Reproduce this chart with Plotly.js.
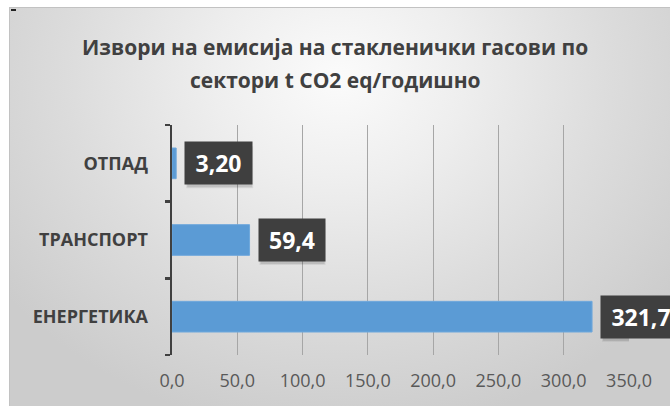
<!DOCTYPE html>
<html>
<head>
<meta charset="utf-8">
<script src="https://cdn.plot.ly/plotly-3.0.1.min.js"></script>
<style>
  html, body { margin: 0; padding: 0; background: #ffffff; }
  #chart { width: 670px; height: 406px; }
</style>
</head>
<body>
<div id="chart"></div>
<script>
// Sectors listed bottom-to-top as they appear on the category axis
const sectors = ['ЕНЕРГЕТИКА', 'ТРАНСПОРТ', 'ОТПАД'];
const emissions = [321.7, 59.4, 3.2];
const labelDecimals = [1, 1, 2];
const xTickValues = [0, 50, 100, 150, 200, 250, 300, 350];
const titleLines = ['Извори на емисија на стакленички гасови по', 'сектори t CO2 eq/годишно'];

const labelText = emissions.map((v, i) => v.toFixed(labelDecimals[i]).replace('.', ','));
const boxWidths = [78, 64, 65];
const boxHeight = 40;

// Chart-area backdrop: grey radial gradient, lightest behind the title
const bgSvg =
  "<svg xmlns='http://www.w3.org/2000/svg' width='661' height='399' viewBox='0 0 661 399'>" +
  "<defs><radialGradient id='g' gradientUnits='userSpaceOnUse' cx='330' cy='70' r='420' " +
  "gradientTransform='translate(330 70) scale(1 0.85) translate(-330 -70)'>" +
  "<stop offset='0' stop-color='#fbfbfb'/>" +
  "<stop offset='0.3' stop-color='#eeeeee'/>" +
  "<stop offset='0.65' stop-color='#dcdcdc'/>" +
  "<stop offset='1' stop-color='#cccccc'/>" +
  "</radialGradient></defs>" +
  "<rect x='0.5' y='0.5' width='670' height='410' fill='url(#g)' stroke='#c2c2c2' stroke-width='1'/>" +
  "<rect x='2' y='2' width='5' height='2' fill='#222222'/>" +
  "</svg>";
const bgUri = 'data:image/svg+xml;charset=utf-8,' + encodeURIComponent(bgSvg);

const M = { l: 172, r: 41, t: 125, b: 51 };
const W = 670, H = 406;
const plotW = W - M.l - M.r, plotH = H - M.t - M.b;
const px2x = px => (px - M.l) / plotW;
const px2y = py => (H - M.b - py) / plotH;

const bars = {
  type: 'bar',
  orientation: 'h',
  y: sectors,
  x: emissions,
  marker: { color: '#5b9bd5', line: { color: '#6fa8dc', width: 1 } },
  hoverinfo: 'none'
};

// soft drop shadows under the value boxes, anchored to each bar end
const shapes = [];
emissions.forEach((v, i) => {
  [[0.10, 0], [0.07, 1]].forEach(([a, grow]) => {
    shapes.push({
      type: 'rect', layer: 'above',
      xref: 'x', yref: 'y', xsizemode: 'pixel', ysizemode: 'pixel',
      xanchor: v, yanchor: sectors[i],
      x0: 11 - grow, x1: 11 + boxWidths[i] + grow,
      y0: -boxHeight / 2 - 4 - grow, y1: boxHeight / 2 - 4 + grow,
      fillcolor: 'rgba(0,0,0,' + a + ')', line: { width: 0 }
    });
  });
});

const annotations = [];
emissions.forEach((v, i) => {
  annotations.push({
    x: v, y: sectors[i], xref: 'x', yref: 'y',
    xanchor: 'left', yanchor: 'middle', xshift: 8,
    text: '<b>' + labelText[i] + '</b>', showarrow: false,
    width: boxWidths[i], height: boxHeight,
    bgcolor: '#3f3f3f',
    font: { family: 'Open Sans', size: 23, color: '#ffffff' }
  });
});

// two-line chart title
[47, 80].forEach((py, i) => {
  annotations.push({
    xref: 'paper', yref: 'paper', x: px2x(335), y: px2y(py),
    xanchor: 'center', yanchor: 'middle', showarrow: false,
    text: '<b>' + titleLines[i] + '</b>',
    font: { family: 'Open Sans', size: 21, color: '#404040' }
  });
});

const layout = {
  width: W, height: H,
  paper_bgcolor: '#ffffff',
  plot_bgcolor: 'rgba(0,0,0,0)',
  margin: M,
  bargap: 0.6,
  showlegend: false,
  separators: ',.',
  images: [{
    source: bgUri, xref: 'paper', yref: 'paper',
    x: px2x(9), y: px2y(7), sizex: (W - 9) / plotW, sizey: (H - 7) / plotH,
    xanchor: 'left', yanchor: 'top', sizing: 'stretch', layer: 'below'
  }],
  xaxis: {
    range: [0, 350],
    tickvals: xTickValues,
    tickformat: '.1f',
    showgrid: true, gridcolor: '#a6a6a6', gridwidth: 1,
    zeroline: false, showline: false,
    ticks: '',
    ticklabelstandoff: 13,
    tickfont: { family: 'Open Sans', size: 18, color: '#595959' },
    fixedrange: true
  },
  yaxis: {
    type: 'category',
    categoryorder: 'array', categoryarray: sectors,
    showline: true, linecolor: '#404040', linewidth: 2.5,
    ticks: 'outside', tickson: 'boundaries', ticklen: 5, tickwidth: 2.5, tickcolor: '#404040',
    showgrid: false, zeroline: false,
    ticklabelstandoff: 18,
    tickfont: { family: 'Open Sans', size: 18, color: '#404040', weight: 'bold' },
    fixedrange: true
  },
  shapes: shapes,
  annotations: annotations
};

Plotly.newPlot('chart', [bars], layout, { displayModeBar: false, staticPlot: true });
</script>
</body>
</html>
